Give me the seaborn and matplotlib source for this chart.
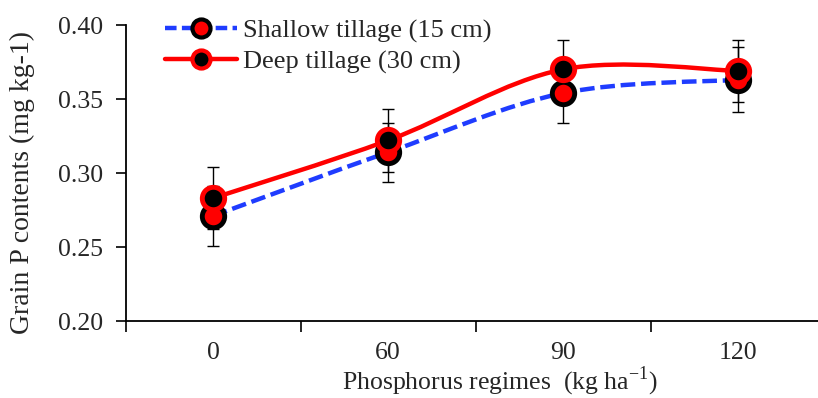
import numpy as np
import pandas as pd
import matplotlib
matplotlib.use("Agg")
import matplotlib.pyplot as plt
from matplotlib.path import Path
from matplotlib.patches import PathPatch
from matplotlib.lines import Line2D
import seaborn as sns

# ---- data ----
categories = ["0", "60", "90", "120"]
shallow = [0.271, 0.314, 0.354, 0.363]
shallow_err = [0.020, 0.020, 0.020, 0.022]
deep = [0.283, 0.322, 0.370, 0.369]
deep_err = [0.021, 0.021, 0.020, 0.021]
series_names = ["Shallow tillage (15 cm)", "Deep tillage (30 cm)"]

sns.set_theme(style="white")
plt.rcParams["font.family"] = ["Liberation Serif", "DejaVu Serif"]
plt.rcParams["mathtext.fontset"] = "custom"
plt.rcParams["mathtext.rm"] = "Liberation Serif"

fig = plt.figure(figsize=(8.18, 3.98), dpi=100)
ax = fig.add_axes([125.5 / 818, 1 - 321 / 398, 700 / 818, (321 - 25) / 398])

xpos = np.arange(len(categories))
df = pd.DataFrame({
    "x": np.concatenate([xpos, xpos]),
    "y": shallow + deep,
    "series": [series_names[0]] * 4 + [series_names[1]] * 4,
})


def smooth_patch(xs, ys, **kw):
    pts = np.column_stack([xs, ys]).astype(float)
    n = len(pts)
    verts = [pts[0]]
    codes = [Path.MOVETO]
    for i in range(n - 1):
        p0 = pts[i - 1] if i > 0 else pts[i]
        p1 = pts[i]
        p2 = pts[i + 1]
        p3 = pts[i + 2] if i + 2 < n else pts[i + 1]
        c1 = p1 + (p2 - p0) / 6.0
        c2 = p2 - (p3 - p1) / 6.0
        verts += [c1, c2, p2]
        codes += [Path.CURVE4] * 3
    return PathPatch(Path(verts, codes), fill=False, **kw)


blue = "#1f3cff"
red = "#ff0000"

# error bars
ax.errorbar(xpos, shallow, yerr=shallow_err, fmt="none", ecolor="black",
            elinewidth=1, capsize=4.5, capthick=1, zorder=2)
ax.errorbar(xpos, deep, yerr=deep_err, fmt="none", ecolor="black",
            elinewidth=1, capsize=4.5, capthick=1, zorder=2)

# smoothed lines
ax.add_patch(smooth_patch(xpos, shallow, edgecolor=blue, linewidth=3.2,
                          linestyle=(0, (3.3, 1.3)), zorder=3))
ax.add_patch(smooth_patch(xpos, deep, edgecolor=red, linewidth=3.2, zorder=5))

# markers
sns.scatterplot(data=df[df.series == series_names[0]], x="x", y="y", ax=ax,
                s=260, color=red, edgecolor="black", linewidth=3.5,
                legend=False, zorder=4)
sns.scatterplot(data=df[df.series == series_names[1]], x="x", y="y", ax=ax,
                s=260, color="black", edgecolor=red, linewidth=3.5,
                legend=False, zorder=6)

ax.set_xlim(-0.5, 3.5)
ax.set_ylim(0.20, 0.40)
ax.set_yticks([0.20, 0.25, 0.30, 0.35, 0.40])
ax.set_yticklabels(["0.20", "0.25", "0.30", "0.35", "0.40"])
ax.set_xticks(np.arange(-0.5, 4.0, 1.0))
ax.set_xticklabels([])
ax.set_xticks(xpos, minor=True)
ax.set_xticklabels(categories, minor=True)

ax.tick_params(axis="y", which="major", direction="out", length=7, width=1.2,
               color="black", labelsize=18.5, pad=9, left=True)
ax.tick_params(axis="x", which="major", direction="out", length=8, width=1.2,
               color="black", bottom=True)
ax.tick_params(axis="x", which="minor", length=0, labelsize=18.5, pad=15)

for s in ["top", "right"]:
    ax.spines[s].set_visible(False)
for s in ["left", "bottom"]:
    ax.spines[s].set_color("black")
    ax.spines[s].set_linewidth(1.3)

ax.set_xlabel(r"Phosphorus regimes  (kg ha$^{\mathregular{-1}}$)", fontsize=18.5)
ax.xaxis.label.set_va("baseline")
ax.xaxis.set_label_coords((500 - 125.5) / 700, -(389 - 321) / 296)
ax.set_ylabel("Grain P contents (mg kg-1)", fontsize=20)
ax.yaxis.label.set_va("center")
ax.yaxis.set_label_coords(-(125.5 - 22) / 700, (321 - 182) / 296)

handles = [
    Line2D([], [], color=blue, linewidth=3.2, linestyle=(0, (2.6, 1.2)),
           marker="o", markersize=13, markerfacecolor=red,
           markeredgecolor="black", markeredgewidth=3),
    Line2D([], [], color=red, linewidth=3.2, marker="o", markersize=13,
           markerfacecolor="black", markeredgecolor=red, markeredgewidth=3),
]
fig.legend(handles, series_names, loc="upper left",
           bbox_to_anchor=(165 / 818, 1 - 19 / 398), frameon=False,
           fontsize=19, handlelength=2.74, handletextpad=0.23,
           labelspacing=0.26, borderaxespad=0, borderpad=0)

fig.savefig("out.png", dpi=100)
